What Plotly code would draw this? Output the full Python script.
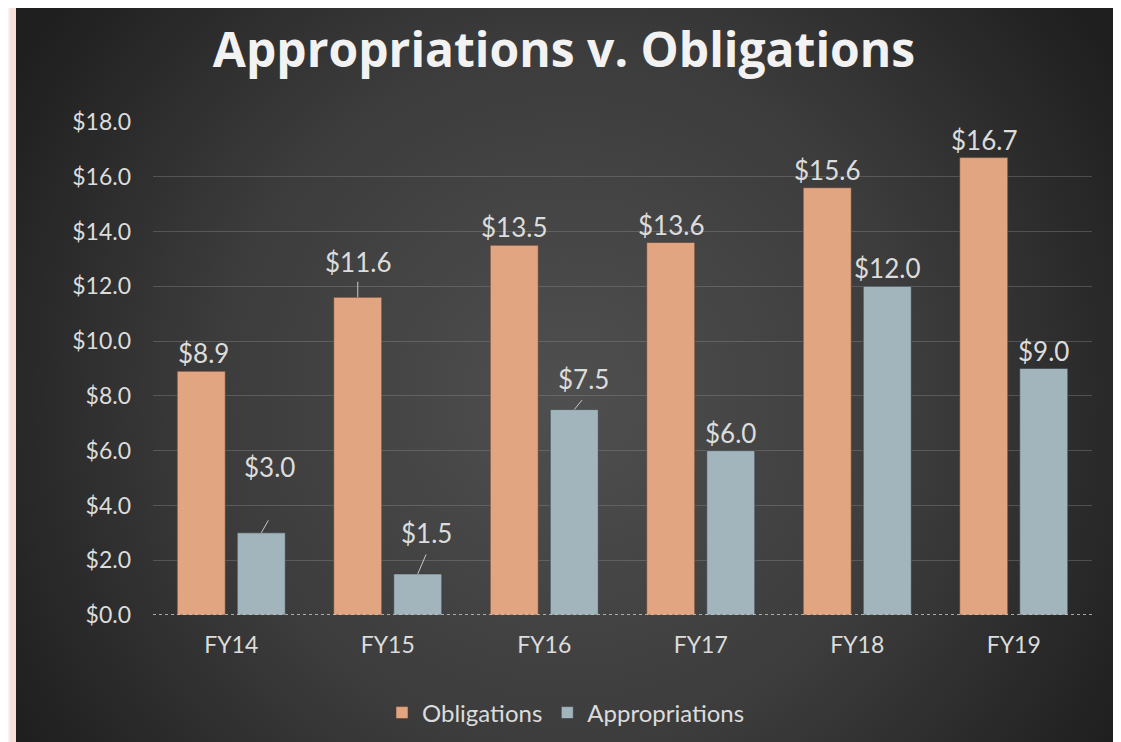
import base64
import plotly.graph_objects as go

# ---- data ----
categories = ["FY14", "FY15", "FY16", "FY17", "FY18", "FY19"]
obligations = [8.9, 11.6, 13.5, 13.6, 15.6, 16.7]
appropriations = [3.0, 1.5, 7.5, 6.0, 12.0, 9.0]
y_ticks = [0, 2, 4, 6, 8, 10, 12, 14, 16, 18]

# ---- style / layout constants ----
# the page body has an 8px margin, so the figure is sized to fit the window
W, H = 1113, 734
ML, MR, MT, MB = 145, 29, 114, 127
PW, PH = W - ML - MR, H - MT - MB
OBL_COLOR = "#E2A582"
APP_COLOR = "#A2B5BC"
TEXT_COLOR = "#DCDCDC"
FONT = "Lato, 'Open Sans', sans-serif"
TITLE_FONT = "'Open Sans', Lato, sans-serif"

# label nudges (px) relative to top-centre of each bar; leader = (ax, ay) or None
obl_label_nudge = [(2, 0), (0, 17), (0, 0), (0, 0), (0, 0), (0, 0)]
obl_leader = [None, (0, -17), None, None, None, None]
app_label_nudge = [(8, 48), (9, 23), (9, 13), (0, 0), (0, 0), (0, 0)]
app_leader = [(8, -14), (9, -21), (9, -11), None, None, None]

svg = f"""<svg xmlns='http://www.w3.org/2000/svg' width='{W}' height='{H}' viewBox='0 0 {W} {H}' preserveAspectRatio='none'>
<defs><radialGradient id='g' cx='560' cy='390' r='640' gradientUnits='userSpaceOnUse'>
<stop offset='0' stop-color='#4f4f4f'/><stop offset='0.55' stop-color='#3c3c3c'/><stop offset='1' stop-color='#1f1f1f'/></radialGradient></defs>
<rect width='{W}' height='{H}' fill='#f2f2f2'/>
<rect x='2' y='-6' width='{W + 20}' height='{H + 40}' rx='6' fill='#f7e1d6'/>
<rect x='8' y='0' width='1100' height='{H + 40}' fill='url(#g)'/>
</svg>"""
svg_uri = "data:image/svg+xml;base64," + base64.b64encode(svg.encode()).decode()

fig = go.Figure()
fig.add_trace(go.Bar(name="Obligations", x=categories, y=obligations,
                     marker=dict(color=OBL_COLOR, line=dict(color="rgba(90,60,45,0.6)", width=1))))
fig.add_trace(go.Bar(name="Appropriations", x=categories, y=appropriations,
                     marker=dict(color=APP_COLOR, line=dict(color="rgba(50,60,65,0.6)", width=1))))

annotations = []
for series, nudges, leaders, side in [(obligations, obl_label_nudge, obl_leader, -30),
                                      (appropriations, app_label_nudge, app_leader, 30)]:
    for cat, val, (dx, dy), lead in zip(categories, series, nudges, leaders):
        annotations.append(dict(x=cat, y=val, xref="x", yref="y", text=f"${val:.1f}",
                                showarrow=False, xshift=side + dx, yshift=dy,
                                yanchor="bottom", xanchor="center",
                                font=dict(family=FONT, size=26, color=TEXT_COLOR)))
        if lead is not None:
            annotations.append(dict(x=cat, y=val, xref="x", yref="y", text="",
                                    showarrow=True, arrowhead=0, arrowwidth=1,
                                    arrowcolor="#c8c8c8", ax=lead[0], ay=lead[1],
                                    xshift=side, standoff=0))

fig.update_layout(
    width=W, height=H,
    margin=dict(l=ML, r=MR, t=MT, b=MB),
    paper_bgcolor="#2b2b2b",
    plot_bgcolor="rgba(0,0,0,0)",
    barmode="group", bargap=0.233, bargroupgap=0.2,
    font=dict(family=FONT, color=TEXT_COLOR),
    title=dict(text="<b>Appropriations v. Obligations</b>", x=556 / W, xref="container", xanchor="center",
               y=1 - 42 / H, yref="container", yanchor="middle",
               font=dict(family=TITLE_FONT, size=48, color="#F2F2F2")),
    showlegend=True,
    legend=dict(orientation="h", x=558 / W, xref="container", xanchor="center",
                y=1 - 705 / H, yref="container", yanchor="middle",
                font=dict(family=FONT, size=24, color=TEXT_COLOR),
                bgcolor="rgba(0,0,0,0)", itemwidth=30, traceorder="normal"),
    xaxis=dict(type="category", showgrid=False, showline=False, zeroline=False,
               ticks="", tickfont=dict(family=FONT, size=23, color=TEXT_COLOR),
               ticklabelstandoff=14),
    yaxis=dict(range=[0, 18], tickvals=y_ticks, ticktext=[f"${v:.1f}" for v in y_ticks],
               showgrid=True, gridcolor="rgba(150,150,150,0.35)", gridwidth=1,
               zeroline=False, showline=False, ticks="",
               tickfont=dict(family=FONT, size=23, color=TEXT_COLOR),
               ticklabelstandoff=21),
    annotations=annotations,
    images=[dict(source=svg_uri, xref="paper", yref="paper",
                 x=-ML / PW, y=1 + MT / PH, sizex=W / PW, sizey=H / PH,
                 xanchor="left", yanchor="top", sizing="stretch", layer="below")],
    shapes=[dict(type="line", xref="paper", yref="y", x0=0, x1=1, y0=0, y1=0,
                 line=dict(color="#d0d0d0", width=1.5, dash="dot"))],
)

fig.write_html("out.html")
